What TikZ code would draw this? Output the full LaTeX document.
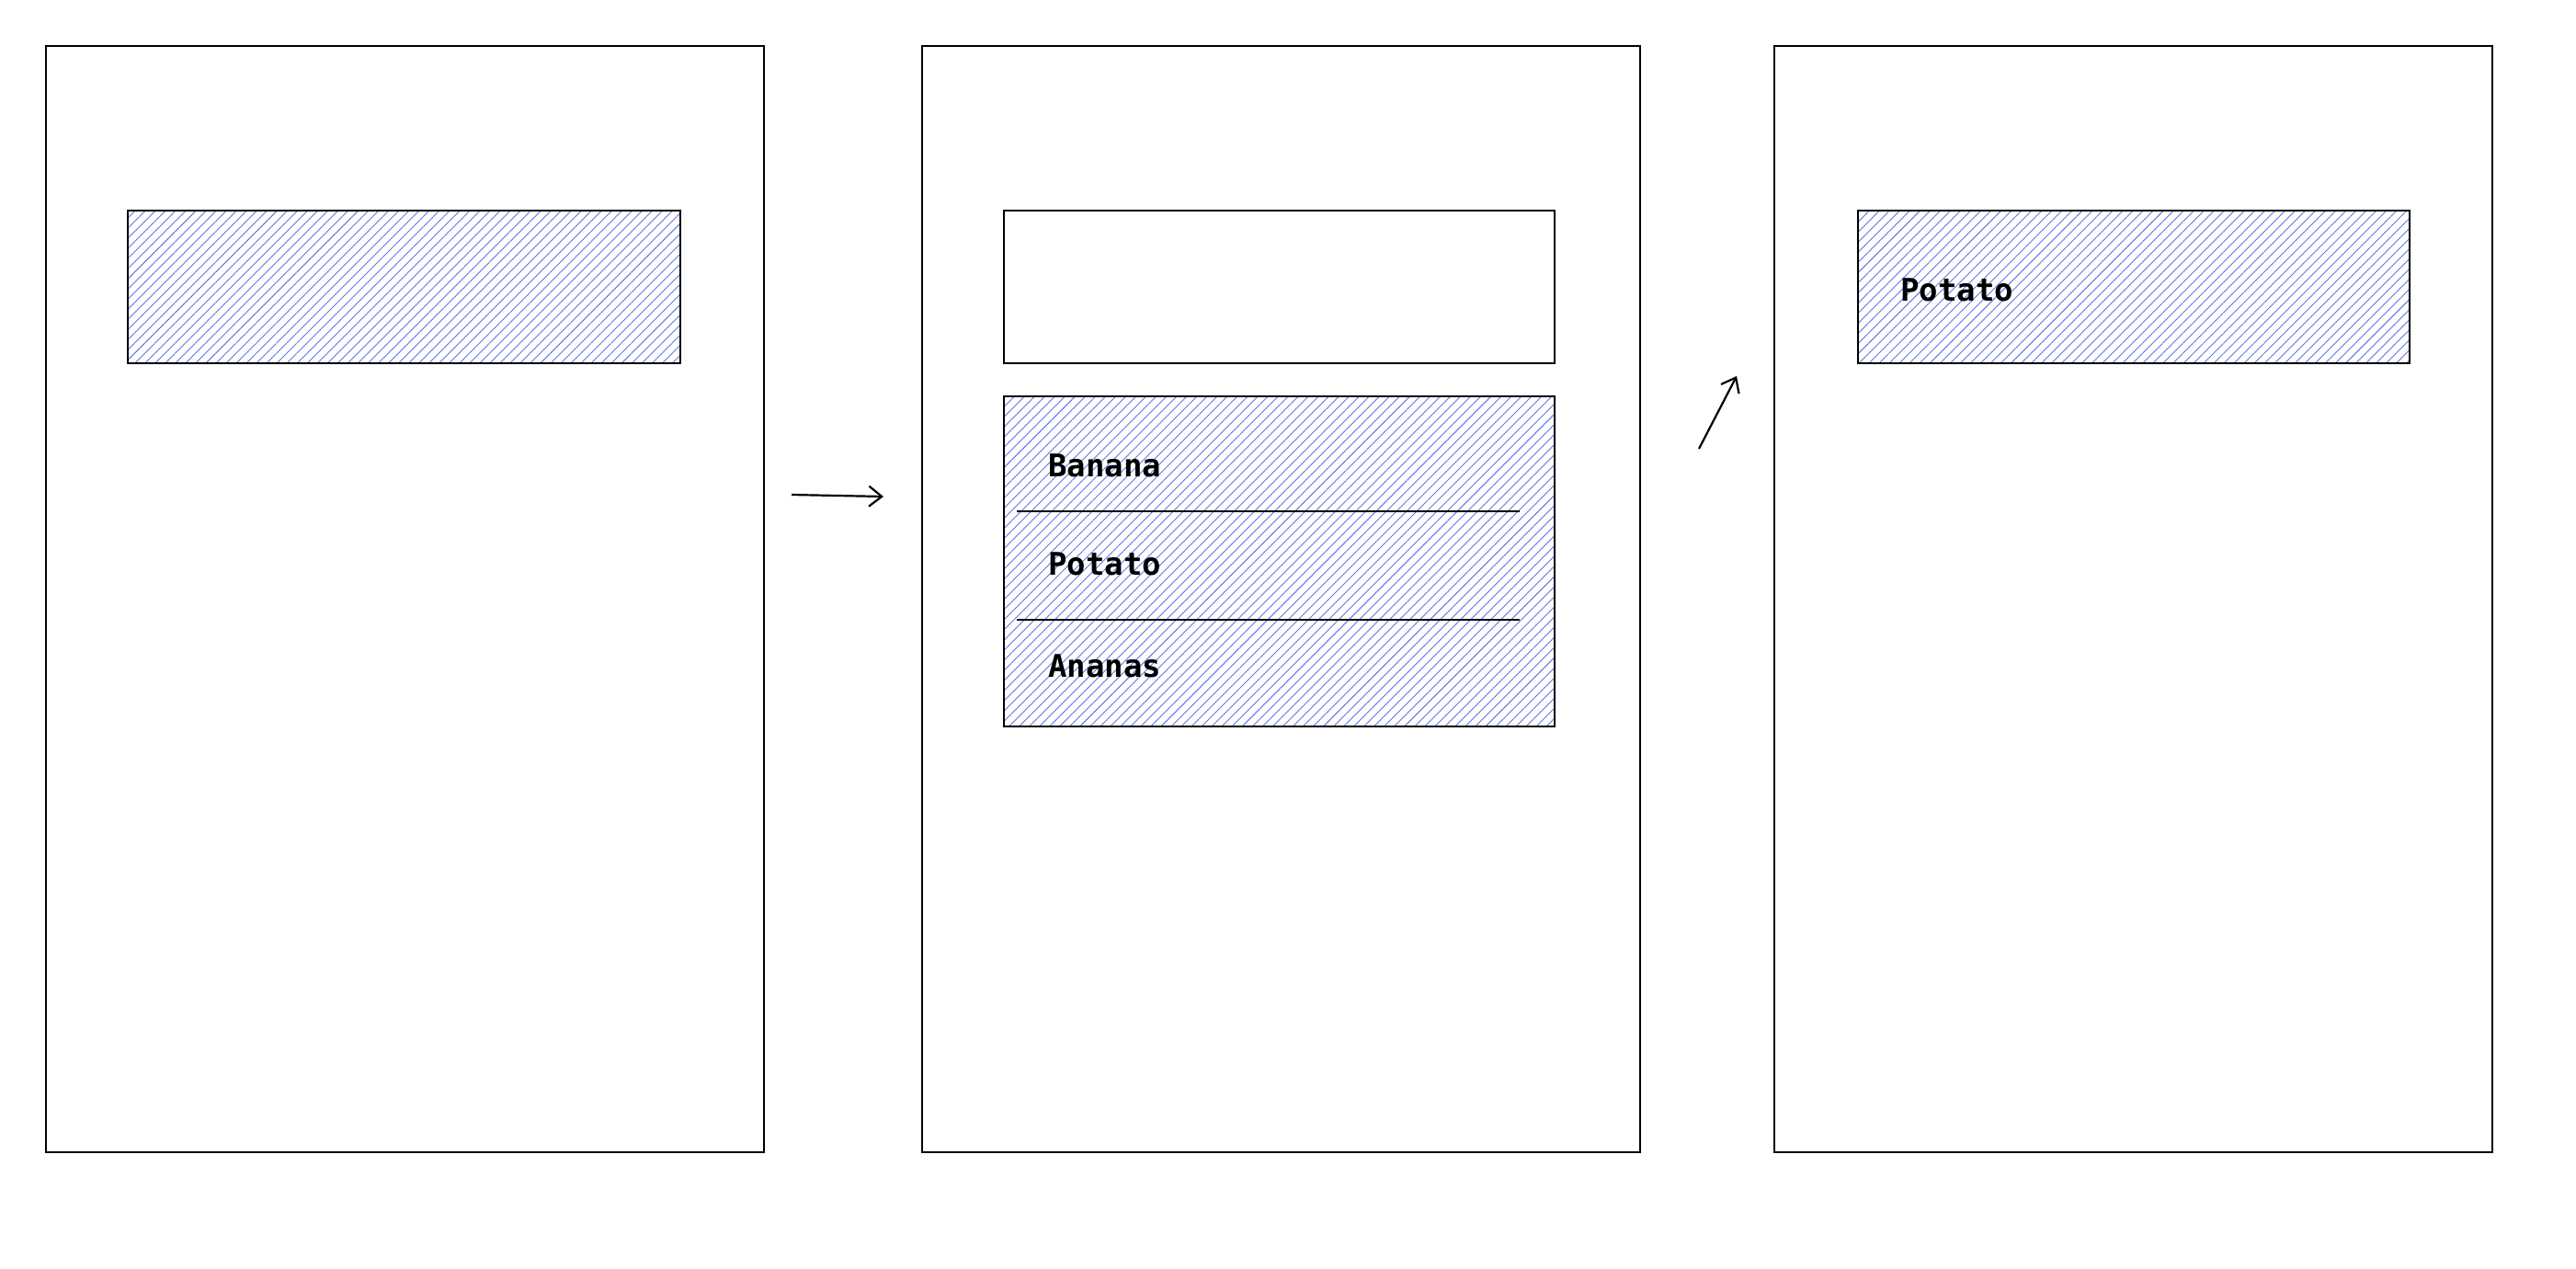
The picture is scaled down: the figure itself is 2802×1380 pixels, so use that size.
\documentclass[tikz,border=0pt]{standalone}
\usepackage{fontspec}
\setmonofont{DejaVu Sans Mono}
\usetikzlibrary{patterns.meta,arrows.meta}
\definecolor{hatch}{RGB}{95,115,232}
\tikzset{
  panel/.style={draw=black,line width=2pt},
  hbox/.style={draw=black,line width=2pt,pattern={Lines[angle=45,distance=7.8pt,line width=0.9pt]},pattern color=hatch},
  plainbox/.style={draw=black,line width=2pt},
  sep/.style={draw=black,line width=2pt},
  lbl/.style={anchor=west,font=\fontsize{34}{40}\selectfont\ttfamily\bfseries,inner sep=0pt},
  arr/.style={line width=2.2pt,-{Straight Barb[length=14pt,width=22pt,line width=2.2pt]}}
}
\begin{document}
\begin{tikzpicture}[x=1pt,y=-1pt]
\useasboundingbox (0,0) rectangle (2802,1380);
% panels
\draw[panel] (50,50) rectangle (831,1253);
\draw[panel] (1003,50) rectangle (1784,1253);
\draw[panel] (1930,50) rectangle (2711,1253);
% panel 1
\draw[hbox] (139,229) rectangle (740,395);
% panel 2
\draw[plainbox] (1092,229) rectangle (1691,395);
\draw[hbox] (1092,431) rectangle (1691,790);
\draw[sep] (1106,556) -- (1653,556);
\draw[sep] (1106,674) -- (1653,674);
\node[lbl] (banana) at (1140,506) {Banana};
\node[lbl] (potato) at (1140,613) {Potato};
\node[lbl] (ananas) at (1140,724) {Ananas};
% panel 3
\draw[hbox] (2021,229) rectangle (2621,395);
\node[lbl] (potato2) at (2067,315) {Potato};
% arrows
\coordinate (a1s) at (861,538);
\coordinate (a1e) at (961,540);
\coordinate (a2s) at (1848,488);
\coordinate (a2e) at (1889,409);
\draw[arr] (a1s) -- (a1e);
\draw[arr] (a2s) -- (a2e);
\end{tikzpicture}
\end{document}
